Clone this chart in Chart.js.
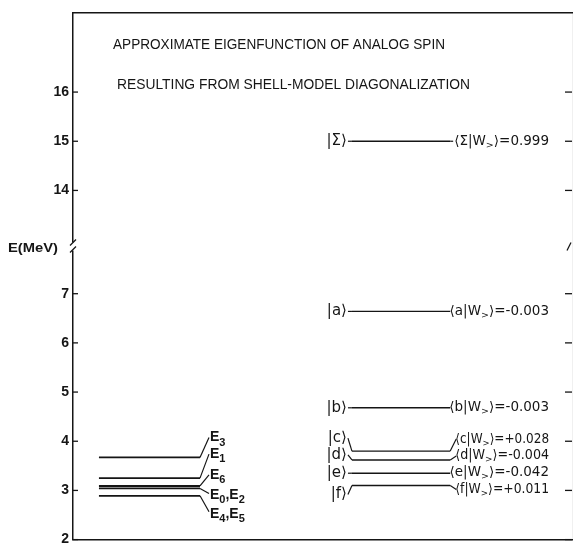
<!DOCTYPE html>
<html><head><meta charset="utf-8">
<script src="https://cdn.jsdelivr.net/npm/chart.js@4/dist/chart.umd.min.js"></script>
<style>html,body{margin:0;padding:0;background:#fff}#wrap{width:576px;height:552px}</style>
</head><body><div id="wrap"><canvas id="c" width="576" height="552"></canvas></div>
<script>
// ---------------- data ----------------
const titleLines = ["APPROXIMATE EIGENFUNCTION OF ANALOG SPIN", "RESULTING FROM SHELL-MODEL DIAGONALIZATION"];
const yAxisLabel = "E(MeV)";
const yTickEnergies = [2, 3, 4, 5, 6, 7, 14, 15, 16];
// calculated eigenvalues (left column)
const calcLevelNames = ["E_3", "E_1", "E_6", "E_0,E_2", "E_4,E_5"];
const calcLevelEnergies = [3.67, 3.25, 3.09, 3.04, 2.89];
// basis states (right column)
const basisKets = ["|Σ⟩", "|a⟩", "|b⟩", "|c⟩", "|d⟩", "|e⟩", "|f⟩"];
const basisNames = ["Σ", "a", "b", "c", "d", "e", "f"];
const basisEnergies = [15.0, 6.64, 4.68, 3.80, 3.62, 3.35, 3.10];
const overlapText = ["0.999", "-0.003", "-0.003", "+0.028", "-0.004", "-0.042", "+0.011"];

// ---------------- layout / style ----------------
const BREAK_SHIFT = 4.9;          // energy removed by the axis break
const BREAK_THRESHOLD = 10;
const AXIS_BREAK_V = 7.96;        // where the break mark sits (axis units)
const Y_MIN = 2, Y_MAX = 12.72;
const LEFT_X = [5.2, 25.45];
const RIGHT_X = [55.9, 75.6];
const KET_RIGHT_X = 54.9;
const BRA_RIGHT_X = 95.4;
const ketShiftPx = [0, 0, 0, -13, -5, 0, 9];
const braShiftPx = [0, 0, 0, -12, -4, -1, 4];
const calcLabelShiftPx = [-20, -24, -11, 7, 18];
const INK = '#151515';

function toAxis(E) { return E > BREAK_THRESHOLD ? E - BREAK_SHIFT : E; }
function fromAxis(v) { return v > 8.5 ? v + BREAK_SHIFT : v; }

const datasets = [];
calcLevelEnergies.forEach((E, i) => datasets.push({
  label: calcLevelNames[i],
  data: [{x: LEFT_X[0], y: toAxis(E)}, {x: LEFT_X[1], y: toAxis(E)}],
  borderColor: INK, borderWidth: 1.8, pointRadius: 0, showLine: true
}));
basisEnergies.forEach((E, i) => datasets.push({
  label: basisKets[i],
  data: [{x: RIGHT_X[0], y: toAxis(E)}, {x: RIGHT_X[1], y: toAxis(E)}],
  borderColor: INK, borderWidth: 1.4, pointRadius: 0, showLine: true
}));

function parseRich(str) {
  const segs = [];
  let cur = '';
  for (let i = 0; i < str.length; i++) {
    if (str[i] === '_' && i + 1 < str.length) {
      if (cur) segs.push([cur, false]);
      cur = '';
      segs.push([str[i + 1], true]);
      i++;
    } else cur += str[i];
  }
  if (cur) segs.push([cur, false]);
  return segs;
}
function richWidth(ctx, segs, f, sf) {
  let w = 0;
  segs.forEach(([t, sub]) => { ctx.font = sub ? sf : f; w += ctx.measureText(t).width; });
  return w;
}
// draws rich text starting at x (left edge), optionally squeezed to width
function drawRichAt(ctx, str, x, y, f, sf, dy, width) {
  const segs = parseRich(str);
  const w = richWidth(ctx, segs, f, sf);
  ctx.save();
  ctx.translate(x, y);
  if (width && width < w) ctx.scale(width / w, 1);
  ctx.textAlign = 'left';
  ctx.textBaseline = 'middle';
  let cx = 0;
  segs.forEach(([t, sub]) => {
    ctx.font = sub ? sf : f;
    ctx.fillText(t, cx, sub ? dy : 0);
    cx += ctx.measureText(t).width;
  });
  ctx.restore();
  return w;
}
function fitText(ctx, text, x, y, width, font) {
  ctx.save();
  ctx.font = font;
  ctx.textAlign = 'left';
  ctx.textBaseline = 'middle';
  const m = ctx.measureText(text).width;
  ctx.translate(x, y);
  ctx.scale(width / m, 1);
  ctx.fillText(text, 0, 0);
  ctx.restore();
}
function seg(ctx, x1, y1, x2, y2) { ctx.beginPath(); ctx.moveTo(x1, y1); ctx.lineTo(x2, y2); ctx.stroke(); }

const decor = {
  id: 'decor',
  afterDraw(chart) {
    const ctx = chart.ctx;
    const xs = chart.scales.x, ys = chart.scales.y;
    const area = chart.chartArea;
    ctx.save();
    ctx.fillStyle = INK; ctx.strokeStyle = INK;
    // titles
    fitText(ctx, titleLines[0], 113, 45, 332, '15px "Liberation Sans"');
    fitText(ctx, titleLines[1], 117, 85, 353, '15px "Liberation Sans"');
    // inward ticks
    ctx.lineWidth = 1.3;
    ys.ticks.forEach(t => {
      const py = ys.getPixelForValue(t.value);
      seg(ctx, area.left, py, area.left + 5, py);
      seg(ctx, area.right - 7, py, area.right, py);
    });
    // axis break
    const by = ys.getPixelForValue(AXIS_BREAK_V);
    ctx.fillStyle = '#fff';
    ctx.fillRect(area.left - 2, by - 4, 5, 8);
    ctx.fillStyle = INK;
    ctx.lineWidth = 1.2;
    seg(ctx, area.left - 3, by - 1, area.left + 3, by - 7);
    seg(ctx, area.left - 3, by + 6, area.left + 3, by);
    seg(ctx, area.right - 5, by + 4, area.right - 1, by - 4);
    fitText(ctx, yAxisLabel, 8, by + 2, 50, 'bold 12px "Liberation Sans"');
    // left column labels
    ctx.lineWidth = 1.2;
    const lx1 = xs.getPixelForValue(LEFT_X[1]);
    calcLevelEnergies.forEach((E, i) => {
      const py = ys.getPixelForValue(toAxis(E));
      const ly = py + calcLabelShiftPx[i];
      seg(ctx, lx1, py, lx1 + 9, ly + (calcLabelShiftPx[i] < 0 ? 0 : -2));
      drawRichAt(ctx, calcLevelNames[i], lx1 + 10, ly, 'bold 14px "Liberation Sans"', 'bold 11px "Liberation Sans"', 5);
    });
    // right column labels
    const rx0 = xs.getPixelForValue(RIGHT_X[0]);
    const rx1 = xs.getPixelForValue(RIGHT_X[1]);
    const kr = xs.getPixelForValue(KET_RIGHT_X);
    const br = xs.getPixelForValue(BRA_RIGHT_X);
    const f = '13.5px "DejaVu Sans"', sf = '9.5px "DejaVu Sans"';
    const kf = '15px "DejaVu Sans"';
    basisEnergies.forEach((E, i) => {
      const py = ys.getPixelForValue(toAxis(E));
      const ky = py + ketShiftPx[i];
      const bry = py + braShiftPx[i];
      // ket, right aligned
      const kw = richWidth(ctx, parseRich(basisKets[i]), kf, sf);
      drawRichAt(ctx, basisKets[i], kr - kw, ky, kf, sf, 4);
      seg(ctx, kr + 1, ky, rx0, py);
      // bra, right aligned (squeezed if it would overrun the level line)
      const bra = "⟨" + basisNames[i] + "|W_>⟩=" + overlapText[i];
      const w = richWidth(ctx, parseRich(bra), f, sf);
      const flat = Math.abs(bry - py) < 1.5;
      const minStart = flat ? rx1 - 6 : rx1 + 5;
      const tx = Math.max(br - w, minStart);
      if (flat) {
        if (tx - 1 > rx1) seg(ctx, rx1, py, tx - 1, py);
      } else {
        seg(ctx, rx1, py, tx + 1, bry);
      }
      drawRichAt(ctx, bra, tx, bry, f, sf, 4, br - tx);
    });
    ctx.restore();
  }
};

const axisBorder = {display: true, color: INK, width: 1.5};
new Chart(document.getElementById('c'), {
  type: 'scatter',
  data: {datasets},
  options: {
    responsive: false, animation: false, devicePixelRatio: 1,
    layout: {padding: 0},
    plugins: {legend: {display: false}, tooltip: {enabled: false}, title: {display: false}},
    scales: {
      x: {type: 'linear', min: 0, max: 100, position: 'bottom',
          ticks: {display: false}, grid: {display: false, drawTicks: false}, border: axisBorder,
          afterFit(s) { s.height = 8; }},
      xTop: {type: 'linear', axis: 'x', min: 0, max: 100, position: 'top',
          ticks: {display: false}, grid: {display: false, drawTicks: false}, border: axisBorder,
          afterFit(s) { s.height = 8; }},
      y: {type: 'linear', min: Y_MIN, max: Y_MAX, position: 'left',
          afterBuildTicks(s) { s.ticks = yTickEnergies.map(E => ({value: toAxis(E)})); },
          ticks: {padding: 4, color: INK, font: {family: 'Liberation Sans', size: 14, weight: 'bold'},
                  callback: v => String(Math.round(fromAxis(v)))},
          grid: {display: false, drawTicks: false}, border: axisBorder,
          afterFit(s) { s.width = 73; }},
      yRight: {type: 'linear', axis: 'y', min: Y_MIN, max: Y_MAX, position: 'right',
          afterBuildTicks(s) { s.ticks = yTickEnergies.map(E => ({value: toAxis(E)})); },
          ticks: {display: false}, grid: {display: false, drawTicks: false},
          border: {display: true, color: 'rgba(0,0,0,0.06)', width: 1},
          afterFit(s) { s.width = 4; }}
    }
  },
  plugins: [decor]
});
</script></body></html>
